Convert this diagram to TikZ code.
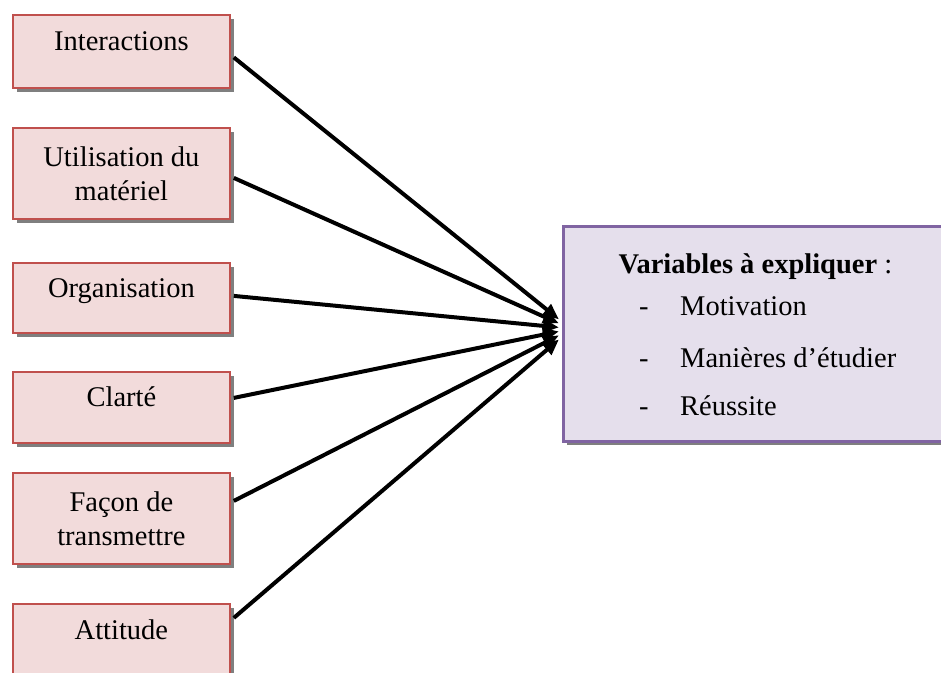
\documentclass[tikz,border=0pt]{standalone}
\usepackage{fontspec}
\setmainfont{Liberation Serif}
\usepackage{tikz}
\usepackage{xcolor}
\usetikzlibrary{arrows.meta, shadows}

\definecolor{rougebord}{HTML}{C0504D}
\definecolor{rougefond}{HTML}{F2DBDB}
\definecolor{violetbord}{HTML}{8064A2}
\definecolor{violetfond}{HTML}{E5DFEC}
\definecolor{ombre}{HTML}{7F7F7F}

\begin{document}
\begin{tikzpicture}[x=1pt, y=-1pt,
  every node/.style={font=\fontsize{28.5}{34}\selectfont},
  cause/.style={draw=rougebord, fill=rougefond, line width=1.8pt, anchor=north west,
    minimum width=217pt, inner sep=0pt, align=center,
    drop shadow={shadow xshift=4.5pt, shadow yshift=-4.5pt, fill=ombre, opacity=1}},
  uneligne/.style={text height=20pt, text depth=21pt},
  effet/.style={draw=violetbord, fill=violetfond, line width=2.8pt, anchor=north west,
    minimum width=384pt, minimum height=215pt,
    drop shadow={shadow xshift=4pt, shadow yshift=-4pt, fill=ombre, opacity=1}},
  fleche/.style={-{Triangle[length=16pt, width=13pt]}, line width=4pt}]
  \useasboundingbox (0,0) rectangle (941,672);

  % Variables explicatives
  \node[cause, uneligne, minimum height=73pt] (inter) at (12,14) {Interactions};
  \node[cause, minimum height=91pt] (mater) at (12,127) {Utilisation du\\mat\'eriel};
  \node[cause, uneligne, minimum height=70pt] (organ) at (12,262) {Organisation};
  \node[cause, uneligne, minimum height=71pt] (clart) at (12,371) {Clart\'e};
  \node[cause, minimum height=91pt] (trans) at (12,472) {Fa\c{c}on de\\transmettre};
  \node[cause, uneligne, minimum height=73pt] (attit) at (12,603) {Attitude};

  % Variables a expliquer
  \node[effet] (expl) at (562,225) {};
  \node[anchor=base] (titre) at ([yshift=-48pt]expl.north) {\textbf{Variables à expliquer} :};
  \foreach \nom/\yy [count=\i] in {Motivation/315, Manières d’étudier/367, Réussite/415} {
    \node[anchor=base west, inner sep=0pt] (tiret\i) at (639,\yy) {-};
    \node[anchor=base west, inner sep=0pt] (item\i) at (680,\yy) {\nom};
  }

  % Fleches
  \foreach \src/\dy/\dt in {inter/-6/14.5, mater/-4.5/10.5, organ/2/6.5,
                            clart/9.5/2.5, trans/17.5/-1.5, attit/22.5/-5.5}
    \draw[fleche] ([xshift=3pt, yshift=\dy pt]\src.east) -- ([xshift=-3pt, yshift=\dt pt]expl.west);
\end{tikzpicture}
\end{document}
